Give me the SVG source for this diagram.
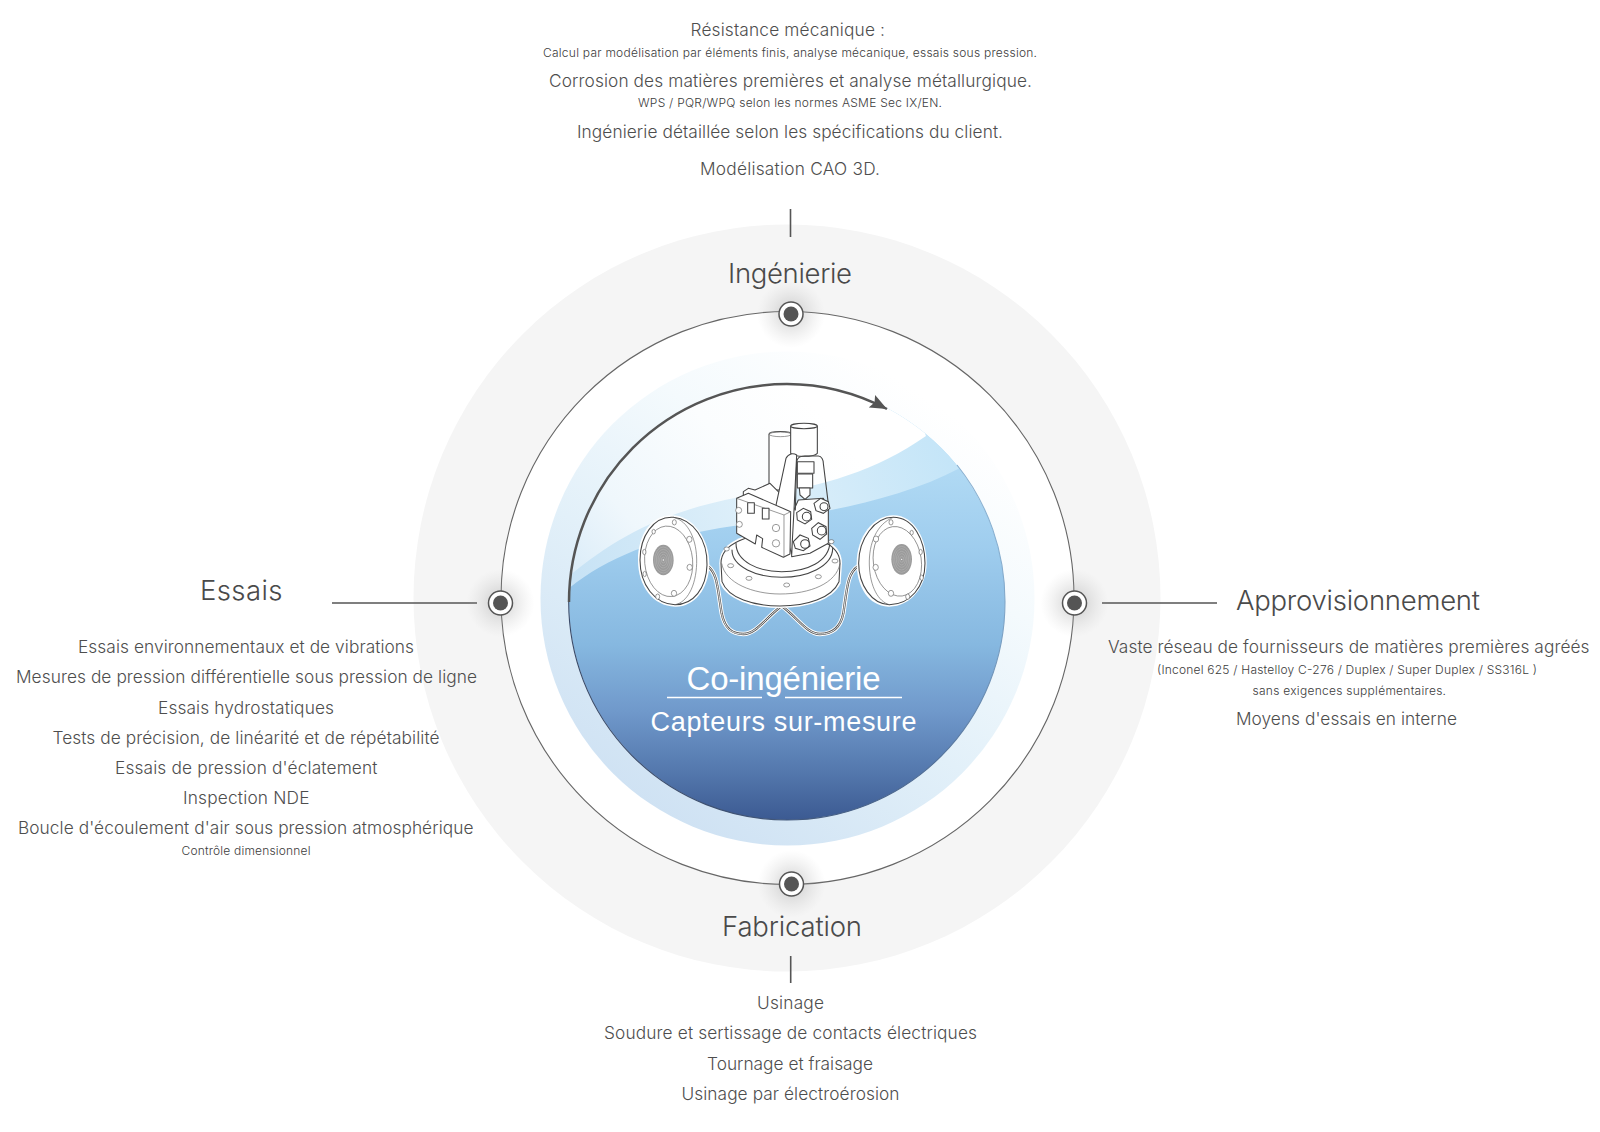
<svg xmlns="http://www.w3.org/2000/svg" width="1600" height="1132" viewBox="0 0 1600 1132">
<style>
text{font-family:Inter,"Liberation Sans",Arial,sans-serif;font-weight:300;fill:#4e4e4e}
.m{font-size:17.3px}.s{font-size:12px;font-weight:300;fill:#3c3c3c}.h{font-size:27.5px;fill:#4a4a4a}
.w{fill:#fff;font-family:"Liberation Sans",Arial,sans-serif;font-weight:400}
.conn{stroke:#555;stroke-width:1.6;fill:none}
.d{fill:#fff;stroke:#444;stroke-width:3.2;stroke-linejoin:round;stroke-linecap:round}
.dn{fill:none;stroke:#444;stroke-width:3.2;stroke-linejoin:round;stroke-linecap:round}
.t{fill:none;stroke:#666;stroke-width:2}
.hole{fill:#fff;stroke:#666;stroke-width:2}
.ring{fill:none;stroke:#bdbdbd;stroke-width:1.3}
.dotring{fill:#fff;stroke:#555;stroke-width:1.5}
.dotcore{fill:#555}
</style>
<defs>
<radialGradient id="glow"><stop offset="0" stop-color="#777" stop-opacity=".45"/><stop offset=".4" stop-color="#999" stop-opacity=".24"/><stop offset="1" stop-color="#bbb" stop-opacity="0"/></radialGradient>
<linearGradient id="halo" gradientUnits="userSpaceOnUse" x1="640" y1="850" x2="930" y2="400"><stop offset="0" stop-color="#cbdff2"/><stop offset=".45" stop-color="#e2f0f9"/><stop offset=".75" stop-color="#f4fafd"/><stop offset="1" stop-color="#fff"/></linearGradient>
<linearGradient id="disc" gradientUnits="userSpaceOnUse" x1="0" y1="430" x2="0" y2="820"><stop offset="0" stop-color="#b9e0f7"/><stop offset=".3" stop-color="#9fcdee"/><stop offset=".55" stop-color="#86b8e0"/><stop offset=".72" stop-color="#7099cb"/><stop offset=".88" stop-color="#5377ac"/><stop offset="1" stop-color="#3c5a92"/></linearGradient>
<linearGradient id="upper" gradientUnits="userSpaceOnUse" x1="570" y1="590" x2="800" y2="390"><stop offset="0" stop-color="#d8ebf8"/><stop offset=".3" stop-color="#eff7fc"/><stop offset=".7" stop-color="#fbfdfe"/><stop offset="1" stop-color="#fff"/></linearGradient>
<linearGradient id="band" gradientUnits="userSpaceOnUse" x1="570" y1="590" x2="950" y2="450"><stop offset="0" stop-color="#c6e2f5"/><stop offset=".5" stop-color="#dff0fa"/><stop offset="1" stop-color="#c4e5f8"/></linearGradient>
<linearGradient id="edge" gradientUnits="userSpaceOnUse" x1="600" y1="700" x2="1000" y2="500"><stop offset="0" stop-color="#3a4a68"/><stop offset=".6" stop-color="#4f6d96"/><stop offset="1" stop-color="#8fb8d8"/></linearGradient>
<clipPath id="dc"><circle cx="787" cy="602" r="218"/></clipPath>
<marker id="arr" markerUnits="userSpaceOnUse" markerWidth="20" markerHeight="16" refX="17" refY="8" orient="auto"><path d="M0 1 L17 8 L0 15 L3 8Z" fill="#555"/></marker>
</defs>

<g id="backdrop">
<circle cx="787" cy="598" r="373.5" fill="#f5f5f5"/>
<circle cx="787.5" cy="598" r="286.5" fill="#fff" stroke="#666" stroke-width="1.1"/>
<circle cx="787.5" cy="598.5" r="247" fill="url(#halo)"/>
</g>

<g id="centre-disc">
<circle cx="787" cy="602" r="218" fill="url(#disc)"/>
<g clip-path="url(#dc)">
<path d="M560 596C600 560 650 540 720 528C800 516 890 505 960 468L1010 380L560 380Z" fill="url(#band)"/>
<path d="M560 584C610 540 660 512 740 497C810 490 870 475 926 436L900 370L560 370Z" fill="url(#upper)"/>
</g>
<path d="M568.7 600A218 218 0 0 0 787 820A218 218 0 0 0 1005 602A218 218 0 0 0 957 465" fill="none" stroke="url(#edge)" stroke-width="1.1"/>
<path d="M569 602A218 218 0 0 1 787 384C825 384 858 394 887 409" fill="none" stroke="#555" stroke-width="2.5" marker-end="url(#arr)"/>
</g>

<g id="device" transform="translate(610 400) scale(.33333)">
<path d="M293 498C322 520 322 560 335 640C345 690 370 702 400 702C440 702 470 650 515 618C560 650 590 702 630 702C660 702 690 690 700 640C712 560 712 520 745 498" fill="none" stroke="#fff" stroke-width="13"/>
<path d="M293 498C322 520 322 560 335 640C345 690 370 702 400 702C440 702 470 650 515 618C560 650 590 702 630 702C660 702 690 690 700 640C712 560 712 520 745 498" fill="none" stroke="#555" stroke-width="7"/>
<path d="M293 498C322 520 322 560 335 640C345 690 370 702 400 702C440 702 470 650 515 618C560 650 590 702 630 702C660 702 690 690 700 640C712 560 712 520 745 498" fill="none" stroke="#fff" stroke-width="2.6"/>
<g id="left-flange">
<path d="M185 346C250 346 300 420 298 495C296 570 250 622 195 620C130 618 84 560 84 480C84 410 120 346 185 346Z" fill="#fff"/>
<path d="M190 352C250 358 293 420 291 495C289 565 250 614 195 614C135 612 90 555 90 480C90 410 130 348 190 352Z" class="d"/>
<path d="M190 352C235 362 262 420 260 490C258 560 230 608 195 614" class="t"/>
<ellipse cx="176" cy="484" rx="72" ry="106" class="t" transform="rotate(-5 176 484)"/>
<ellipse cx="160" cy="480" rx="31" ry="46" fill="#9b9b9b"/>
<ellipse cx="160" cy="480" rx="26" ry="39" class="ring"/><ellipse cx="160" cy="480" rx="21" ry="32" class="ring"/><ellipse cx="160" cy="480" rx="16" ry="24" class="ring"/><ellipse cx="160" cy="480" rx="11" ry="17" class="ring"/><ellipse cx="160" cy="480" rx="6" ry="9" class="ring"/><circle cx="160" cy="480" r="2" fill="#fff"/>
<ellipse cx="193" cy="367" rx="6" ry="8" class="hole"/><ellipse cx="238" cy="418" rx="8" ry="9" class="hole"/><ellipse cx="239" cy="502" rx="8" ry="9" class="hole"/><ellipse cx="192" cy="580" rx="8" ry="9" class="hole"/><ellipse cx="143" cy="590" rx="6" ry="8" class="hole"/><ellipse cx="104" cy="522" rx="5" ry="8" class="hole"/><ellipse cx="103" cy="456" rx="5" ry="8" class="hole"/><ellipse cx="131" cy="395" rx="5" ry="7" class="hole"/>
</g>
<g id="right-flange">
<path d="M850 346C915 346 950 420 950 490C950 560 900 622 835 620C775 618 740 560 740 490C740 410 790 346 850 346Z" fill="#fff"/>
<path d="M850 352C910 352 945 420 945 490C945 560 900 614 838 614C785 612 746 555 746 490C746 415 795 352 850 352Z" class="d"/>
<path d="M850 352C800 372 776 430 778 495C780 560 805 605 838 614" class="t"/>
<ellipse cx="862" cy="484" rx="72" ry="105" class="t" transform="rotate(-8 862 484)"/>
<ellipse cx="875" cy="478" rx="31" ry="46" fill="#9b9b9b"/>
<ellipse cx="875" cy="478" rx="26" ry="39" class="ring"/><ellipse cx="875" cy="478" rx="21" ry="32" class="ring"/><ellipse cx="875" cy="478" rx="16" ry="24" class="ring"/><ellipse cx="875" cy="478" rx="11" ry="17" class="ring"/><ellipse cx="875" cy="478" rx="6" ry="9" class="ring"/><circle cx="875" cy="478" r="2" fill="#fff"/>
<ellipse cx="843" cy="367" rx="6" ry="8" class="hole"/><ellipse cx="905" cy="398" rx="5" ry="7" class="hole"/><ellipse cx="798" cy="417" rx="8" ry="9" class="hole"/><ellipse cx="797" cy="502" rx="8" ry="9" class="hole"/><ellipse cx="843" cy="580" rx="8" ry="9" class="hole"/><ellipse cx="893" cy="590" rx="6" ry="8" class="hole"/><ellipse cx="935" cy="533" rx="5" ry="8" class="hole"/><ellipse cx="932" cy="456" rx="5" ry="8" class="hole"/>
</g>
<g id="base">
<path d="M328 490C328 420 420 395 510 395C610 395 696 420 696 490L692 550C670 600 590 624 510 624C430 624 350 600 330 548Z" fill="#fff"/>
<path d="M333 490C333 430 420 400 510 400C605 400 690 430 690 490L687 545C665 595 590 618 510 618C430 618 355 595 336 545Z" class="d"/>
<path d="M335 490C345 550 430 582 510 582C600 582 680 550 690 490" class="t"/>
<path d="M366 450C366 500 440 532 515 532C590 532 668 500 668 445" class="dn"/>
<path d="M378 430C378 485 445 515 515 515C590 515 658 485 660 425" class="dn"/>
<ellipse cx="350" cy="447" rx="8" ry="6" class="hole"/><ellipse cx="362" cy="497" rx="9" ry="6" class="hole"/><ellipse cx="417" cy="535" rx="9" ry="6" class="hole"/><ellipse cx="530" cy="555" rx="9" ry="6" class="hole"/><ellipse cx="625" cy="530" rx="9" ry="6" class="hole"/><ellipse cx="675" cy="483" rx="9" ry="6" class="hole"/><ellipse cx="664" cy="425" rx="8" ry="6" class="hole"/>
</g>
<g id="upper-body">
<path d="M477 102C477 92 545 92 545 102L545 270L477 270Z" class="d"/>
<ellipse cx="511" cy="103" rx="33" ry="7" class="t"/>
<path d="M400 275L415 265L435 270L480 250L520 290L520 340L400 320Z" class="d"/>
<path d="M542 78V160C555 172 610 172 622 160V78" class="d"/>
<ellipse cx="582" cy="78" rx="40" ry="8" class="d"/>
<path d="M545 345L565 300L640 295L655 330L655 430L600 460L545 470Z" class="d"/>
<rect x="562" y="185" width="50" height="35" class="d"/>
<rect x="562" y="222" width="46" height="42" class="d"/>
<path d="M568 264H600V285L585 298L570 285Z" class="d"/>
<path d="M496 325L528 175C535 160 550 158 560 165L552 330L545 460Z" class="d"/>
<path d="M556 330L560 185C562 170 572 168 585 168H625C635 168 640 180 640 190L656 320" class="dn"/>
<path d="M380 295L415 280L542 335L540 462L520 472L455 442L458 416L440 405L436 432L380 400Z" class="d"/>
<path d="M380 295L522 345V472" class="t"/><path d="M522 345L542 335" class="t"/>
<rect x="413" y="308" width="20" height="32" class="d"/><rect x="457" y="325" width="20" height="32" class="d"/>
<circle cx="386" cy="331" r="9" class="hole"/><circle cx="388" cy="373" r="9" class="hole"/>
<circle cx="498" cy="384" r="11" class="hole"/><circle cx="498" cy="430" r="11" class="hole"/>
<g fill="#fff" stroke="#444" stroke-width="3.2">
<path d="M612 310L632 295L655 305L660 325L640 340L618 332Z"/><circle cx="642" cy="320" r="12"/>
<path d="M560 338L580 325L602 335L605 358L585 372L562 360Z"/><circle cx="590" cy="350" r="13"/>
<path d="M605 385L625 368L648 380L650 402L630 418L608 405Z"/><circle cx="635" cy="392" r="13"/>
<path d="M550 425L570 405L595 415L600 438L580 452L556 445Z"/><circle cx="585" cy="432" r="13"/>
</g>
</g>
</g>

<g id="centre-label">
<text x="686.5" y="689.5" class="w" style="font-size:33px" textLength="194">Co-ingénierie</text>
<text x="650.5" y="731" class="w" style="font-size:27px" textLength="266">Capteurs sur-mesure</text>
<path d="M667 697.5H762M785 697.5H902" stroke="#fff" stroke-width="1.4" fill="none"/>
</g>

<g id="connectors">
<path class="conn" d="M790.5 209V237"/>
<path class="conn" d="M790.7 956V983"/>
<path class="conn" d="M332 603H477"/>
<path class="conn" d="M1102 603H1217"/>
</g>

<g id="node-ingenierie">
<circle cx="791" cy="314" r="34" fill="url(#glow)"/><circle cx="791" cy="314" r="12" class="dotring"/><circle cx="791" cy="314" r="7.5" class="dotcore"/>
<text x="728" y="283" class="h" textLength="124">Ingénierie</text>
<text x="690.5" y="36" class="m" textLength="194.5">Résistance mécanique :</text>
<text x="543" y="57" class="s" textLength="494">Calcul par modélisation par éléments finis, analyse mécanique, essais sous pression.</text>
<text x="549" y="87" class="m" textLength="483">Corrosion des matières premières et analyse métallurgique.</text>
<text x="638" y="107" class="s" textLength="304">WPS / PQR/WPQ selon les normes ASME Sec IX/EN.</text>
<text x="577" y="138" class="m" textLength="426">Ingénierie détaillée selon les spécifications du client.</text>
<text x="700" y="175" class="m" textLength="180">Modélisation CAO 3D.</text>
</g>

<g id="node-essais">
<circle cx="500.5" cy="603" r="34" fill="url(#glow)"/><circle cx="500.5" cy="603" r="12" class="dotring"/><circle cx="500.5" cy="603" r="7.5" class="dotcore"/>
<text x="200" y="600" class="h" textLength="82.5">Essais</text>
<text x="78" y="653" class="m" textLength="336">Essais environnementaux et de vibrations</text>
<text x="16" y="683" class="m" textLength="461">Mesures de pression différentielle sous pression de ligne</text>
<text x="158" y="714" class="m" textLength="176">Essais hydrostatiques</text>
<text x="52.5" y="744" class="m" textLength="387">Tests de précision, de linéarité et de répétabilité</text>
<text x="115" y="774" class="m" textLength="262.5">Essais de pression d'éclatement</text>
<text x="183" y="804" class="m" textLength="126.5">Inspection NDE</text>
<text x="18" y="834" class="m" textLength="455.5">Boucle d'écoulement d'air sous pression atmosphérique</text>
<text x="181.5" y="855" class="s" textLength="129">Contrôle dimensionnel</text>
</g>

<g id="node-approvisionnement">
<circle cx="1074.5" cy="603" r="34" fill="url(#glow)"/><circle cx="1074.5" cy="603" r="12" class="dotring"/><circle cx="1074.5" cy="603" r="7.5" class="dotcore"/>
<text x="1236" y="610" class="h" textLength="244">Approvisionnement</text>
<text x="1108" y="653" class="m" textLength="481.5">Vaste réseau de fournisseurs de matières premières agréés</text>
<text x="1157" y="674" class="s" textLength="380">(Inconel 625 / Hastelloy C-276 / Duplex / Super Duplex / SS316L )</text>
<text x="1252.5" y="695" class="s" textLength="193.5">sans exigences supplémentaires.</text>
<text x="1236" y="725" class="m" textLength="221">Moyens d'essais en interne</text>
</g>

<g id="node-fabrication">
<circle cx="791.5" cy="884" r="34" fill="url(#glow)"/><circle cx="791.5" cy="884" r="12" class="dotring"/><circle cx="791.5" cy="884" r="7.5" class="dotcore"/>
<text x="722" y="936" class="h" textLength="140">Fabrication</text>
<text x="757" y="1009" class="m" textLength="67">Usinage</text>
<text x="604" y="1039" class="m" textLength="373">Soudure et sertissage de contacts électriques</text>
<text x="707" y="1070" class="m" textLength="166">Tournage et fraisage</text>
<text x="681.5" y="1100" class="m" textLength="218">Usinage par électroérosion</text>
</g>
</svg>
